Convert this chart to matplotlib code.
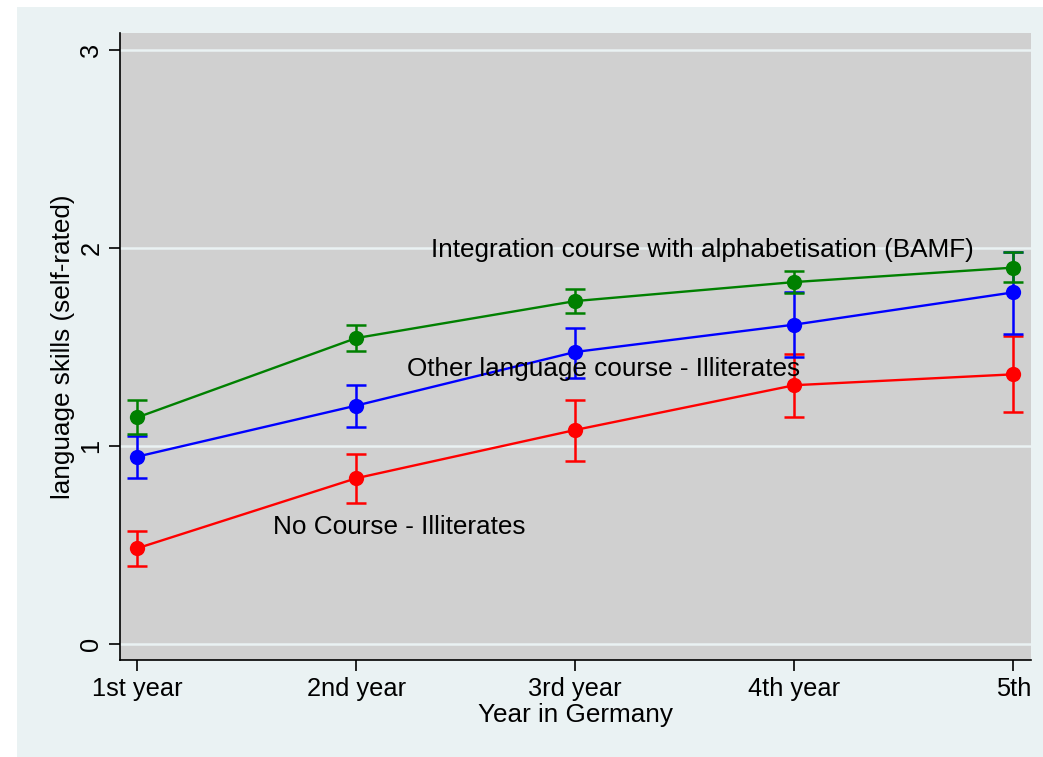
import matplotlib
matplotlib.use("Agg")
import matplotlib.pyplot as plt
from matplotlib.patches import Rectangle

plt.rcParams['font.family'] = ['Liberation Sans', 'DejaVu Sans']

years = ["1st year", "2nd year", "3rd year", "4th year", "5th"]

# integration course with alphabetisation (BAMF)
bamf_mean = [1.144, 1.545, 1.732, 1.828, 1.901]
bamf_lo = [1.061, 1.480, 1.672, 1.771, 1.827]
bamf_hi = [1.232, 1.611, 1.793, 1.884, 1.978]

# other language course - illiterates
other_mean = [0.946, 1.204, 1.475, 1.613, 1.776]
other_lo = [0.840, 1.098, 1.343, 1.451, 1.564]
other_hi = [1.051, 1.307, 1.596, 1.779, 1.981]

# no course - illiterates
none_mean = [0.483, 0.837, 1.081, 1.307, 1.362]
none_lo = [0.396, 0.711, 0.924, 1.145, 1.170]
none_hi = [0.571, 0.960, 1.232, 1.465, 1.556]

W, H = 1043, 757
fig = plt.figure(figsize=(W / 100, H / 100), dpi=100)
fig.patch.set_facecolor("white")
fig.patches.append(Rectangle((17 / W, 0), 1 - 17 / W, 1 - 7 / H,
                             transform=fig.transFigure, facecolor="#eaf2f3",
                             edgecolor="none", zorder=-10))

ax = fig.add_axes([120 / W, (H - 660) / H, (1031 - 120) / W, (660 - 33) / H])
ax.set_facecolor("#d0d0d0")

x = list(range(len(years)))
series = [
    (none_mean, none_lo, none_hi, "#ff0000"),
    (other_mean, other_lo, other_hi, "#0000ff"),
    (bamf_mean, bamf_lo, bamf_hi, "#008000"),
]
for mean, lo, hi, col in series:
    err = [[m - l for m, l in zip(mean, lo)], [h - m for m, h in zip(mean, hi)]]
    ax.errorbar(x, mean, yerr=err, fmt="none", ecolor=col, elinewidth=1.8,
                capsize=7.5, capthick=1.8, zorder=3)
    ax.plot(x, mean, color=col, lw=1.7, marker="o", markersize=11,
            markeredgewidth=0, zorder=4)

ax.text(1.342, 1.99, "Integration course with alphabetisation (BAMF)",
        fontsize=18.8, va="center", ha="left", zorder=5)
ax.text(1.233, 1.389, "Other language course - Illiterates",
        fontsize=18.8, va="center", ha="left", zorder=5)
ax.text(0.621, 0.591, "No Course - Illiterates",
        fontsize=18.8, va="center", ha="left", zorder=5)

ax.set_xlim(-0.078, 4.08)
ax.set_ylim(-0.081, 3.086)
ax.set_yticks([0, 1, 2, 3])
ax.set_yticklabels(["0", "1", "2", "3"], rotation=90, va="center")
ax.set_xticks(x)
ax.set_xticklabels(years)
ax.grid(axis="y", color="#eaf2f3", lw=1.8)
ax.set_axisbelow(True)
for s in ["top", "right"]:
    ax.spines[s].set_visible(False)
for s in ["left", "bottom"]:
    ax.spines[s].set_linewidth(1.2)
ax.tick_params(axis="both", length=8, width=1.2, labelsize=18.3, pad=4)
ax.set_ylabel("language skills (self-rated)", fontsize=18.8, labelpad=3)
ax.set_xlabel("Year in Germany", fontsize=18.8, labelpad=2)

fig.savefig("out.png", dpi=100)
